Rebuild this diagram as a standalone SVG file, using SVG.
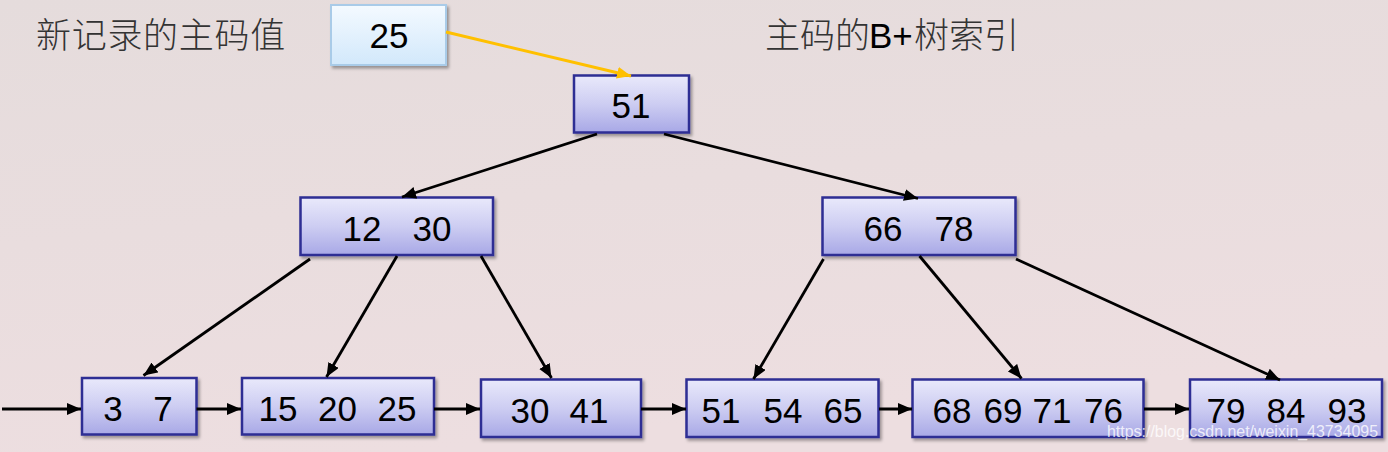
<svg xmlns="http://www.w3.org/2000/svg" width="1388" height="452" viewBox="0 0 1388 452">
  <defs>
    <linearGradient id="bg" x1="0" y1="0" x2="0.3" y2="1">
      <stop offset="0" stop-color="#e5dcdc"/>
      <stop offset="1" stop-color="#eddee0"/>
    </linearGradient>
    <linearGradient id="nodeFill" x1="0" y1="0" x2="0" y2="1">
      <stop offset="0" stop-color="#e9e9fb"/>
      <stop offset="0.5" stop-color="#cdcdf2"/>
      <stop offset="1" stop-color="#a8a8e6"/>
    </linearGradient>
    <linearGradient id="keyFill" x1="0" y1="0" x2="0" y2="1">
      <stop offset="0" stop-color="#f4faff"/>
      <stop offset="1" stop-color="#d2e8fb"/>
    </linearGradient>
    <filter id="shadow" x="-10%" y="-10%" width="125%" height="135%">
      <feDropShadow dx="2" dy="2.5" stdDeviation="1.5" flood-color="#000" flood-opacity="0.35"/>
    </filter>
    <marker id="arrow" markerUnits="userSpaceOnUse" markerWidth="16" markerHeight="14" refX="14" refY="6" orient="auto">
      <path d="M0,0 L14,6 L0,12 z" fill="#000"/>
    </marker>
    <marker id="arrowOrange" markerUnits="userSpaceOnUse" markerWidth="16" markerHeight="14" refX="14" refY="6" orient="auto">
      <path d="M0,0 L14,6 L0,12 z" fill="#ffc000"/>
    </marker>
  </defs>
  <style>
    .node rect { fill: url(#nodeFill); stroke: #2d2d94; stroke-width: 2.5; filter: url(#shadow); }
    .key rect { fill: url(#keyFill); stroke: #a9cbe8; stroke-width: 2; filter: url(#shadow); }
    .num { font-family: "Liberation Sans", Arial, sans-serif; font-size: 35px; fill: #000; text-anchor: middle; }
    .cjk { font-family: "Noto Sans CJK SC", "Liberation Sans", sans-serif; font-size: 35px; fill: #333333; font-weight: 300; }
    .latin { font-family: "Liberation Sans", Arial, sans-serif; font-size: 35px; fill: #000; }
    .conn line { stroke: #000; stroke-width: 2.8; marker-end: url(#arrow); }
    .conn line.orange { stroke: #ffc000; stroke-width: 3; marker-end: url(#arrowOrange); }
    .wm { font-family: "Liberation Sans", Arial, sans-serif; font-size: 17px; fill: #ffffff; fill-opacity: 0.8; }
  </style>

  <rect x="0" y="0" width="1388" height="452" fill="url(#bg)"/>

  <g id="labels">
    <text class="cjk" x="36" y="48" letter-spacing="0.7">新记录的主码值</text>
    <text x="765" y="48"><tspan class="cjk">主码的</tspan><tspan class="latin" x="869">B+</tspan><tspan class="cjk" x="914">树索引</tspan></text>
  </g>

  <g id="key-25" class="key">
    <rect x="331" y="5" width="115" height="60"/>
    <text class="num" x="389" y="48">25</text>
  </g>

  <g id="root-51" class="node">
    <rect x="574" y="75.5" width="115" height="57"/>
    <text class="num" x="631" y="118">51</text>
  </g>

  <g id="inner-12-30" class="node">
    <rect x="300.5" y="197.5" width="192.5" height="57.5"/>
    <text class="num" y="241"><tspan x="362">12</tspan><tspan x="432">30</tspan></text>
  </g>

  <g id="inner-66-78" class="node">
    <rect x="822.5" y="197.5" width="193" height="57.5"/>
    <text class="num" y="241"><tspan x="883">66</tspan><tspan x="954">78</tspan></text>
  </g>

  <g id="leaf-3-7" class="node">
    <rect x="82" y="378" width="114.5" height="56.5"/>
    <text class="num" y="421"><tspan x="113">3</tspan><tspan x="163">7</tspan></text>
  </g>

  <g id="leaf-15-20-25" class="node">
    <rect x="242" y="378" width="192" height="56.5"/>
    <text class="num" y="421"><tspan x="278">15</tspan><tspan x="337.5">20</tspan><tspan x="397">25</tspan></text>
  </g>

  <g id="leaf-30-41" class="node">
    <rect x="481" y="379.5" width="160" height="57.5"/>
    <text class="num" y="423"><tspan x="530">30</tspan><tspan x="589">41</tspan></text>
  </g>

  <g id="leaf-51-54-65" class="node">
    <rect x="686.5" y="379.5" width="192" height="57.5"/>
    <text class="num" y="423"><tspan x="721">51</tspan><tspan x="783">54</tspan><tspan x="843">65</tspan></text>
  </g>

  <g id="leaf-68-69-71-76" class="node">
    <rect x="912.5" y="379.5" width="231" height="57.5"/>
    <text class="num" y="423"><tspan x="952">68</tspan><tspan x="1003">69</tspan><tspan x="1052">71</tspan><tspan x="1103.5">76</tspan></text>
  </g>

  <g id="leaf-79-84-93" class="node">
    <rect x="1190" y="379.5" width="192" height="57.5"/>
    <text class="num" y="423"><tspan x="1226">79</tspan><tspan x="1286">84</tspan><tspan x="1347">93</tspan></text>
  </g>

  <g id="connectors" class="conn">
    <line class="orange" x1="446" y1="32" x2="631" y2="76"/>
    <line x1="597" y1="134" x2="402" y2="197"/>
    <line x1="664" y1="134" x2="918" y2="198.5"/>
    <line x1="310" y1="259" x2="143.5" y2="375.5"/>
    <line x1="397" y1="256" x2="326.5" y2="377"/>
    <line x1="481" y1="256" x2="551.5" y2="378"/>
    <line x1="823.5" y1="259" x2="753.5" y2="379"/>
    <line x1="919.5" y1="256" x2="1021.5" y2="378.5"/>
    <line x1="1016" y1="259" x2="1280" y2="380"/>
    <line x1="2" y1="409" x2="81" y2="409"/>
    <line x1="196.5" y1="409" x2="241" y2="409"/>
    <line x1="434" y1="409" x2="480" y2="409"/>
    <line x1="641" y1="409" x2="686" y2="409"/>
    <line x1="879" y1="409" x2="912" y2="409"/>
    <line x1="1144" y1="409" x2="1189" y2="409"/>
  </g>

  <text class="wm" x="1107" y="437" textLength="271" lengthAdjust="spacingAndGlyphs">https://blog.csdn.net/weixin_43734095</text>
</svg>
